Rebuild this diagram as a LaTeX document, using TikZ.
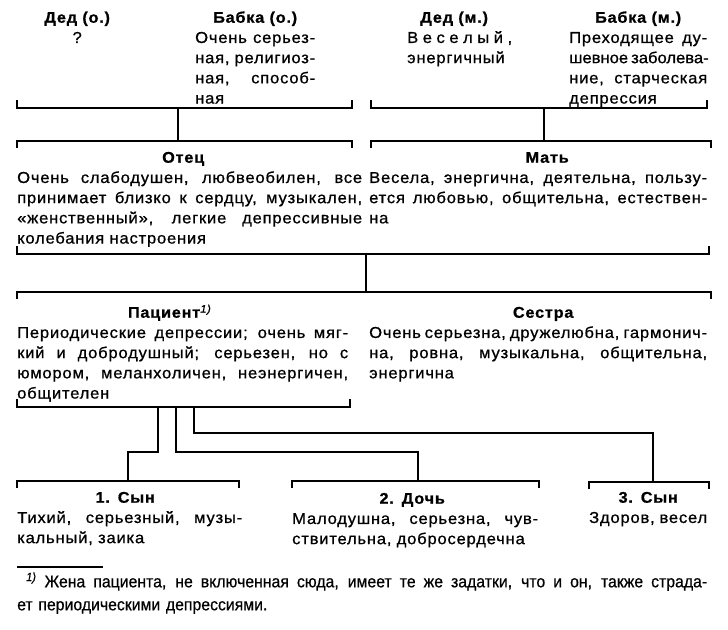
\documentclass[tikz,border=0pt]{standalone}
\usepackage{fontspec}
\setmainfont{Liberation Sans}[LetterSpace=5,FakeStretch=1.05,FakeBold=0.8]
\newfontfamily\notefont{Liberation Sans}[FakeStretch=0.93,FakeBold=0.6]
\newcommand{\jline}[1]{\makebox[\hsize][s]{\spaceskip=0pt\xspaceskip=0pt #1}}
\newcommand{\head}[2][0pt]{\strut\makebox[\hsize]{\kern#1\fontsize{15.5}{20.2}\bfseries#2\kern-#1}}

\begin{document}
\begin{tikzpicture}[
  x=1pt,y=-1pt,
  person/.style={anchor=north west,inner sep=0pt,text width=#1,align=left,
    font=\fontsize{15.8}{20.2}\selectfont},
  rule/.style={line width=1.8pt},
  link/.style={line width=1.8pt}
]
  \useasboundingbox (0,0) rectangle (728,629);

  \node[person=70pt] (grandpa-f) at (42,8.4) {\head{Дед (о.)}\\ \makebox[\hsize]{?}};
  \node[person=120pt] (grandma-f) at (195,8.4) {\head{Бабка (о.)}\\
    \jline{Очень серьез-}\\ \jline{ная, религиоз-}\\ \jline{ная, способ-}\\ ная};
  \node[person=105pt] (grandpa-m) at (407,8.4) {\head[-5.5pt]{Дед (м.)}\\
    \jline{В е с е л ы й ,}\\ энергичный};
  \node[person=138pt] (grandma-m) at (569,8.4) {\head{Бабка (м.)}\\
    \jline{Преходящее ду-}\\ \jline{\addfontfeature{LetterSpace=0}шевное заболева-}\\ \jline{ние, старческая}\\ депрессия};

  \node[person=345pt] (father) at (17,148.4) {\head[-6.5pt]{Отец}\\
    \jline{Очень слабодушен, любвеобилен, все}\\
    \jline{принимает близко к сердцу, музыкален,}\\
    \jline{«женственный», легкие депрессивные}\\
    колебания настроения};
  \node[person=338pt] (mother) at (369,148.4) {\head[9pt]{Мать}\\
    \jline{Весела, энергична, деятельна, пользу-}\\
    \jline{ется любовью, общительна, естествен-}\\
    на};

  \node[person=331pt] (patient) at (17,303.4) {\head[-13pt]{Пациент\textsuperscript{\itshape\mdseries 1)}}\\
    \jline{Периодические депрессии; очень мяг-}\\
    \jline{кий и добродушный; серьезен, но с}\\
    \jline{юмором, меланхоличен, неэнергичен,}\\
    общителен};
  \node[person=338pt] (sister) at (369,303.4) {\head[5pt]{Сестра}\\
    \jline{Очень серьезна, дружелюбна, гармонич-}\\
    \jline{на, ровна, музыкальна, общительна,}\\
    энергична};

  \node[person=225pt] (son-1) at (17,488.4) {\head[-4.5pt]{1. Сын}\\
    \jline{Тихий, серьезный, музы-}\\ кальный, заика};
  \node[person=246pt] (daughter) at (292,489.4) {\head[-3pt]{2. Дочь}\\
    \jline{Малодушна, серьезна, чув-}\\ ствительна, добросердечна};
  \node[person=118pt] (son-3) at (589,488.4) {\head{3. Сын}\\ \jline{Здоров, весел}};

  \coordinate (gpf-l) at (17,108);  \coordinate (gpf-r) at (352,108);  \coordinate (gpf-m) at (178,108);
  \coordinate (gpm-l) at (371,108); \coordinate (gpm-r) at (707,108);  \coordinate (gpm-m) at (544,108);
  \coordinate (fa-l) at (17,141);   \coordinate (fa-r) at (352,141);
  \coordinate (mo-l) at (371,141);  \coordinate (mo-r) at (711,141);
  \coordinate (par-l) at (17,254);  \coordinate (par-r) at (709,254);  \coordinate (par-m) at (366,254);
  \coordinate (ch-l) at (17,292);   \coordinate (ch-r) at (711,292);
  \coordinate (pt-l) at (17,407);   \coordinate (pt-r) at (350,407);
  \coordinate (pt-a) at (158,407);  \coordinate (pt-b) at (176,407);  \coordinate (pt-c) at (194,407);
  \coordinate (s1-l) at (17,481);   \coordinate (s1-r) at (239,481);  \coordinate (s1-m) at (128,481);
  \coordinate (d-l) at (292,481);   \coordinate (d-r) at (539,481);   \coordinate (d-m) at (418,481);
  \coordinate (s3-l) at (589,482);  \coordinate (s3-r) at (709,482);  \coordinate (s3-m) at (653,482);

  \draw[rule] (gpf-l) ++(0,-8) -- (gpf-l) -- (gpf-r) -- ++(0,-8);
  \draw[rule] (gpm-l) ++(0,-8) -- (gpm-l) -- (gpm-r) -- ++(0,-8);
  \draw[rule] (fa-l) ++(0,7) -- (fa-l) -- (fa-r) -- ++(0,7);
  \draw[rule] (mo-l) ++(0,7) -- (mo-l) -- (mo-r) -- ++(0,7);
  \draw[rule] (par-l) ++(0,-8) -- (par-l) -- (par-r) -- ++(0,-8);
  \draw[rule] (ch-l) ++(0,7) -- (ch-l) -- (ch-r) -- ++(0,7);
  \draw[rule] (pt-l) ++(0,-8) -- (pt-l) -- (pt-r) -- ++(0,-8);
  \draw[rule] (s1-l) ++(0,7) -- (s1-l) -- (s1-r) -- ++(0,7);
  \draw[rule] (d-l) ++(0,7) -- (d-l) -- (d-r) -- ++(0,7);
  \draw[rule] (s3-l) ++(0,7) -- (s3-l) -- (s3-r) -- ++(0,7);

  \draw[link] (gpf-m) -- (gpf-m |- fa-l);
  \draw[link] (gpm-m) -- (gpm-m |- mo-l);
  \draw[link] (par-m) -- (par-m |- ch-l);
  \draw[link] (pt-a) -- ++(0,45) -| (s1-m);
  \draw[link] (pt-b) -- ++(0,45) -| (d-m);
  \draw[link] (pt-c) -- ++(0,26) -| (s3-m);

  \coordinate (rule-l) at (17,567); \coordinate (rule-r) at (103,567);
  \draw[line width=1.4pt] (rule-l) -- (rule-r);
  \node[anchor=north west,inner sep=0pt,text width=690pt,align=left,
    font=\notefont\fontsize{17}{23}\selectfont] (note) at (17,571)
    {\strut\jline{\kern9pt\textsuperscript{\itshape 1)} Жена пациента, не включенная сюда, имеет те же задатки, что и он, также страда-}\\
    ет периодическими депрессиями.};
\end{tikzpicture}
\end{document}
